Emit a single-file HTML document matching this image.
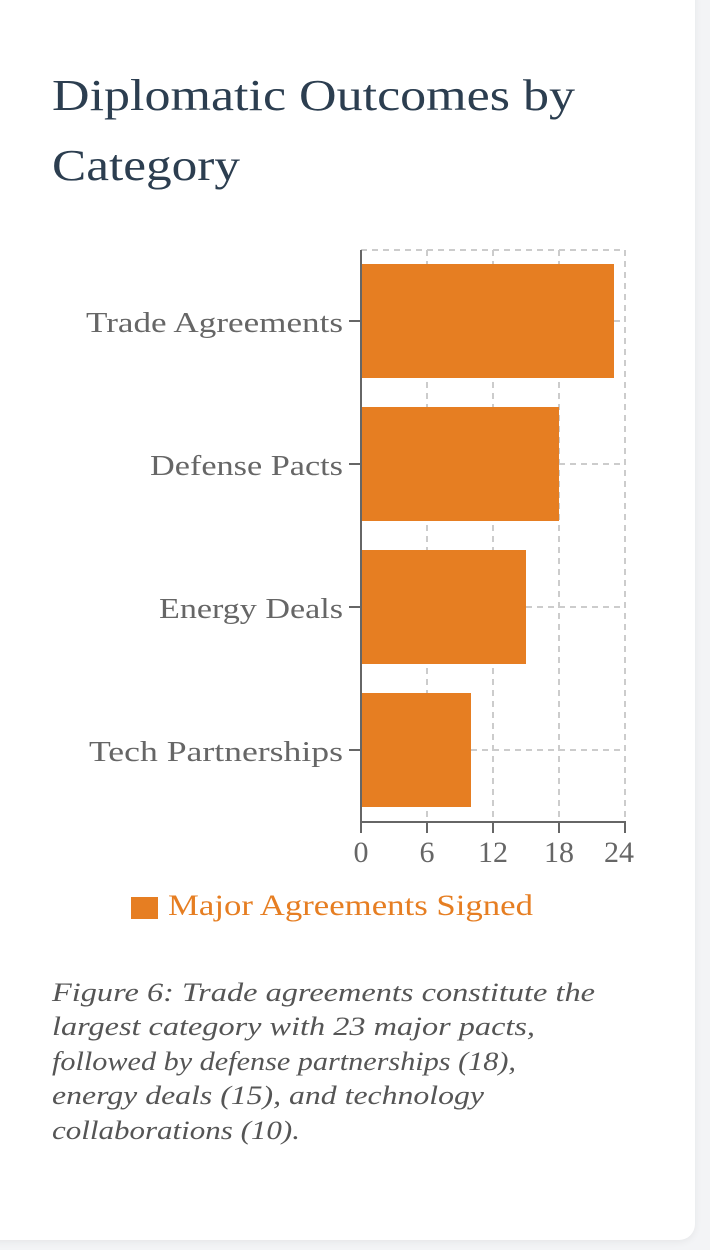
<!DOCTYPE html>
<html><head><meta charset="utf-8"><style>
html,body{margin:0;padding:0;background:#f3f4f6;}
body{width:710px;height:1250px;position:relative;overflow:hidden;font-family:"Liberation Serif",serif;}
.card{position:absolute;left:-20px;top:-20px;width:715px;height:1260px;background:#fff;border-radius:16px;box-shadow:0 2px 8px rgba(0,0,0,0.06);}
</style></head><body>
<div class="card"></div>
<svg width="710" height="1250" style="position:absolute;left:0;top:0" font-family="Liberation Serif, serif">
<g fill="#2c3e50" font-size="44">
<text x="52" y="110" textLength="523" lengthAdjust="spacingAndGlyphs">Diplomatic Outcomes by</text>
<text x="52" y="180" textLength="188" lengthAdjust="spacingAndGlyphs">Category</text>
</g>
<g stroke="#ccc" stroke-width="2" stroke-dasharray="6,5" fill="none">
<line x1="361" y1="250" x2="625" y2="250"/>
<line x1="427" y1="250" x2="427" y2="822"/>
<line x1="493" y1="250" x2="493" y2="822"/>
<line x1="559" y1="250" x2="559" y2="822"/>
<line x1="625" y1="250" x2="625" y2="822"/>
<line x1="361" y1="321" x2="625" y2="321"/>
<line x1="361" y1="464" x2="625" y2="464"/>
<line x1="361" y1="607" x2="625" y2="607"/>
<line x1="361" y1="750" x2="625" y2="750"/>
</g>
<g fill="#e67e22">
<rect x="361" y="264" width="253" height="114"/>
<rect x="361" y="407" width="198" height="114"/>
<rect x="361" y="550" width="165" height="114"/>
<rect x="361" y="693" width="110" height="114"/>
</g>
<g stroke="#666" stroke-width="2">
<line x1="361" y1="250" x2="361" y2="823"/>
<line x1="360" y1="822" x2="626" y2="822"/>
<line x1="349" y1="321" x2="361" y2="321"/><line x1="349" y1="464" x2="361" y2="464"/>
<line x1="349" y1="607" x2="361" y2="607"/><line x1="349" y1="750" x2="361" y2="750"/>
<line x1="361" y1="822" x2="361" y2="833"/><line x1="427" y1="822" x2="427" y2="833"/>
<line x1="493" y1="822" x2="493" y2="833"/><line x1="559" y1="822" x2="559" y2="833"/>
<line x1="625" y1="822" x2="625" y2="833"/>
</g>
<g fill="#666" font-size="29">
<text x="86" y="332" textLength="257" lengthAdjust="spacingAndGlyphs">Trade Agreements</text>
<text x="150" y="475" textLength="193" lengthAdjust="spacingAndGlyphs">Defense Pacts</text>
<text x="159" y="618" textLength="184" lengthAdjust="spacingAndGlyphs">Energy Deals</text>
<text x="89" y="761" textLength="254" lengthAdjust="spacingAndGlyphs">Tech Partnerships</text>
</g>
<g fill="#666" font-size="30" text-anchor="middle">
<text x="361" y="862">0</text><text x="427" y="862">6</text><text x="493" y="862">12</text>
<text x="559" y="862">18</text><text x="619" y="862">24</text>
</g>
<rect x="131" y="897" width="27" height="22" fill="#e67e22"/>
<text x="168" y="915" font-size="30" fill="#e67e22" textLength="365" lengthAdjust="spacingAndGlyphs">Major Agreements Signed</text>
<g fill="#555" font-size="26" font-style="italic">
<text x="52" y="1001" textLength="543" lengthAdjust="spacingAndGlyphs">Figure 6: Trade agreements constitute the</text>
<text x="52" y="1035" textLength="483" lengthAdjust="spacingAndGlyphs">largest category with 23 major pacts,</text>
<text x="52" y="1070" textLength="464" lengthAdjust="spacingAndGlyphs">followed by defense partnerships (18),</text>
<text x="52" y="1104" textLength="432" lengthAdjust="spacingAndGlyphs">energy deals (15), and technology</text>
<text x="52" y="1139" textLength="248" lengthAdjust="spacingAndGlyphs">collaborations (10).</text>
</g>
</svg>
</body></html>
